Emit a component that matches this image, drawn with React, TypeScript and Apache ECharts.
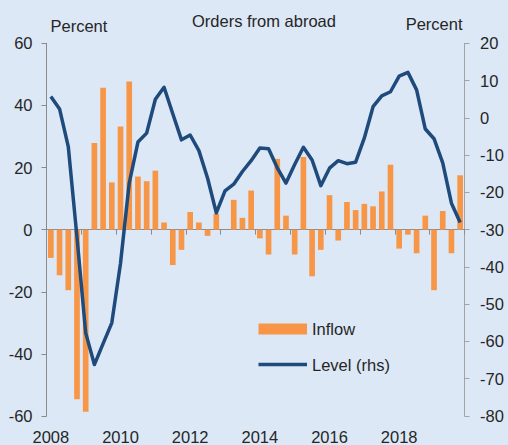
import React, { useEffect, useRef } from "react";
import * as echarts from "echarts";

const categories = [
  "2008Q1", "2008Q2", "2008Q3", "2008Q4",
  "2009Q1", "2009Q2", "2009Q3", "2009Q4",
  "2010Q1", "2010Q2", "2010Q3", "2010Q4",
  "2011Q1", "2011Q2", "2011Q3", "2011Q4",
  "2012Q1", "2012Q2", "2012Q3", "2012Q4",
  "2013Q1", "2013Q2", "2013Q3", "2013Q4",
  "2014Q1", "2014Q2", "2014Q3", "2014Q4",
  "2015Q1", "2015Q2", "2015Q3", "2015Q4",
  "2016Q1", "2016Q2", "2016Q3", "2016Q4",
  "2017Q1", "2017Q2", "2017Q3", "2017Q4",
  "2018Q1", "2018Q2", "2018Q3", "2018Q4",
  "2019Q1", "2019Q2", "2019Q3", "2019Q4",
];

// Inflow, percent (left axis)
const inflow = [
  -9.1, -14.7, -19.5, -54.6,
  -58.6, 27.9, 45.7, 15.2,
  33.2, 47.7, 17.1, 15.6,
  19.0, 2.3, -11.4, -6.5,
  5.7, 2.3, -2.0, 5.1,
  0, 9.6, 3.8, 12.6,
  -2.8, -8.0, 22.8, 4.5,
  -8.0, 23.4, -15.0, -6.5,
  11.1, -3.5, 8.9, 6.3,
  8.3, 7.5, 12.3, 20.9,
  -6.1, -1.6, -7.6, 4.5,
  -19.5, 6.0, -7.6, 17.5,
];

// Level (rhs), percent (right axis)
const level = [
  5.7, 2.4, -7.7, -32,
  -57.7, -66.2, -60.6, -55.0,
  -39, -17.5, -6.5, -4.1,
  5.0, 8.2, 1.1, -5.9,
  -4.6, -8.8, -16.2, -25.5,
  -19.6, -17.8, -14.4, -11.5,
  -8.1, -8.3, -13.4, -17.5,
  -12.5, -7.9, -11.3, -18.2,
  -13.5, -11.5, -12.3, -11.9,
  -5.4, 3.0, 5.9, 7.0,
  11.2, 12.2, 7.5, -3.0,
  -5.6, -12.1, -22.9, -28.1,
];

const titleText = "Orders from abroad";
const unitText = "Percent";
const seriesNames = ["Inflow", "Level (rhs)"];

export default function App() {
  const ref = useRef<HTMLDivElement>(null);

  useEffect(() => {
    if (!ref.current) return;
    const chart = echarts.init(ref.current, null, { renderer: "svg" });
    const font = "'Liberation Sans', Arial, sans-serif";
    const txt = "#262626";
    const fs = 16.5;
    const orange = "#f79646";
    const navy = "#1f4a7c";

    chart.setOption({
      animation: false,
      backgroundColor: "#dce8f6",
      textStyle: { fontFamily: font },
      title: {
        text: titleText,
        left: 192,
        top: 12,
        padding: 0,
        textStyle: { fontSize: fs, fontWeight: "normal", color: txt, fontFamily: font },
      },
      grid: { left: 46.5, right: 43.5, top: 43.3, bottom: 28.3, containLabel: false },
      legend: [
        {
          data: [seriesNames[0]],
          left: 258.5,
          top: 320.4,
          padding: 0,
          icon: "rect",
          itemWidth: 48.5,
          itemHeight: 11,
          itemStyle: { borderWidth: 0 },
          textStyle: { fontSize: fs, color: txt, fontFamily: font },
        },
        {
          data: [seriesNames[1]],
          left: 258.5,
          top: 356,
          padding: 0,
          icon: "rect",
          itemWidth: 48.5,
          itemHeight: 3.5,
          itemStyle: { borderWidth: 0 },
          textStyle: { fontSize: fs, color: txt, fontFamily: font },
        },
      ],
      xAxis: [
        {
          type: "category",
          data: categories,
          position: "top",
          boundaryGap: true,
          axisLine: { show: true, onZero: true, onZeroAxisIndex: 0, lineStyle: { color: "#8c8c8c", width: 1 } },
          axisTick: { show: true, inside: true, interval: 3, length: 5, lineStyle: { color: "#8c8c8c" } },
          axisLabel: { show: false },
          splitLine: { show: false },
        },
        {
          type: "category",
          data: categories,
          position: "bottom",
          boundaryGap: true,
          axisLine: { show: false, onZero: false },
          axisTick: { show: false },
          axisLabel: {
            interval: 7,
            margin: 12,
            fontSize: fs,
            color: txt,
            fontFamily: font,
            formatter: (v: string) => v.slice(0, 4),
          },
          splitLine: { show: false },
        },
      ],
      yAxis: [
        {
          type: "value",
          position: "left",
          min: -60,
          max: 60,
          interval: 20,
          name: unitText,
          nameLocation: "end",
          nameGap: 8.5,
          nameTextStyle: { align: "left", fontSize: fs, color: txt, fontFamily: font, padding: [0, 0, 0, 4] },
          axisLine: { show: true, lineStyle: { color: "#8a8a8a" } },
          axisTick: { show: true, length: 5, lineStyle: { color: "#8a8a8a" } },
          axisLabel: { margin: 14, fontSize: fs, color: txt, fontFamily: font },
          splitLine: { show: false },
        },
        {
          type: "value",
          position: "right",
          min: -80,
          max: 20,
          interval: 10,
          name: unitText,
          nameLocation: "end",
          nameGap: 10.8,
          nameTextStyle: { align: "right", fontSize: fs, color: txt, fontFamily: font, padding: [0, 2, 0, 0] },
          axisLine: { show: true, lineStyle: { color: "#a3a3a3" } },
          axisTick: { show: true, length: 5, lineStyle: { color: "#a3a3a3" } },
          axisLabel: { margin: 15.5, fontSize: fs, color: txt, fontFamily: font },
          splitLine: { show: false },
        },
      ],
      series: [
        {
          name: seriesNames[0],
          type: "bar",
          xAxisIndex: 0,
          yAxisIndex: 0,
          data: inflow,
          barWidth: "65%",
          itemStyle: { color: orange },
          z: 2,
        },
        {
          name: seriesNames[1],
          type: "line",
          xAxisIndex: 0,
          yAxisIndex: 1,
          data: level,
          symbol: "none",
          smooth: false,
          itemStyle: { color: navy },
          lineStyle: { color: navy, width: 3.5, join: "round" },
          z: 5,
        },
      ],
    });

    return () => {
      chart.dispose();
    };
  }, []);

  return (
    <div
      ref={ref}
      style={{ position: "fixed", left: 0, top: 0, width: 508, height: 445 }}
    />
  );
}
